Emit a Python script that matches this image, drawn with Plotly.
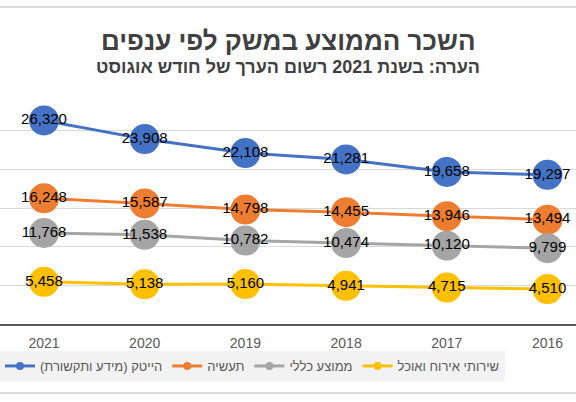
import plotly.graph_objects as go

years = ["2021", "2020", "2019", "2018", "2017", "2016"]
hitech = [26320, 23908, 22108, 21281, 19658, 19297]
industry = [16248, 15587, 14798, 14455, 13946, 13494]
average = [11768, 11538, 10782, 10474, 10120, 9799]
food = [5458, 5138, 5160, 4941, 4715, 4510]

names = ["הייטק (מידע ותקשורת)", "תעשיה", "ממוצע כללי", "שירותי אירוח ואוכל"]
colors = ["#4472C4", "#ED7D31", "#A5A5A5", "#FFC000"]
series = [hitech, industry, average, food]

LBL = "Liberation Sans, Arial"
fig = go.Figure()
for nm, col, vals in zip(names, colors, series):
    fig.add_trace(go.Scatter(
        x=years, y=vals, name=nm, mode="lines+markers+text",
        line=dict(color=col, width=3),
        marker=dict(color=col, size=30),
        text=[f"{v:,}" for v in vals], textposition="middle center",
        textfont=dict(family=LBL, size=15, color="#000000"),
        cliponaxis=False, showlegend=False,
    ))
# legend entries with small markers
for nm, col in zip(names, colors):
    fig.add_trace(go.Scatter(
        x=[None], y=[None], name=nm, mode="lines+markers",
        line=dict(color=col, width=3), marker=dict(color=col, size=8),
        showlegend=True,
    ))

fig.update_layout(
    width=576, height=402,
    margin=dict(l=0, r=0, t=92, b=78, autoexpand=False),
    paper_bgcolor="white", plot_bgcolor="white",
    showlegend=True,
    legend=dict(orientation="h", xref="container", yref="container",
                x=0, xanchor="left", y=1 - 366 / 402, yanchor="middle",
                bgcolor="#F2F2F2",
                font=dict(family="Liberation Sans, Arial", size=13, color="#595959"),
                itemwidth=30, tracegroupgap=0),
    font=dict(family="Liberation Sans, Arial"),
)
fig.update_xaxes(type="category", range=[-0.437, 5.283], showgrid=False,
                 showline=True, linecolor="#595959", linewidth=2,
                 tickfont=dict(size=14, color="#595959"), ticks="outside", ticklen=5,
                 tickcolor="rgba(0,0,0,0)")
fig.update_yaxes(range=[0, 30000], dtick=5000, showgrid=True, gridcolor="#D9D9D9",
                 gridwidth=1, showticklabels=False, zeroline=False)

fig.add_annotation(text="<b>השכר הממוצע במשק לפי ענפים</b>", xref="paper", yref="paper",
                   x=0.5, y=(324 - 41) / 232, showarrow=False, yanchor="middle",
                   font=dict(size=26, color="#404040", family="Liberation Sans, Arial"))
fig.add_annotation(text="<b>הערה: בשנת 2021 רשום הערך של חודש אוגוסט</b>", xref="paper", yref="paper",
                   x=0.5, y=(324 - 67) / 232, showarrow=False, yanchor="middle",
                   font=dict(size=18, color="#404040", family="Liberation Sans, Arial"))
for yy in [7, 393]:
    fig.add_shape(type="line", xref="paper", yref="paper", x0=0, x1=1,
                  y0=(324 - yy) / 232, y1=(324 - yy) / 232,
                  line=dict(color="#D0D0D0", width=1.5))

fig.write_html("out.html", config={"displayModeBar": False},
               post_script="document.body.style.margin='0';")
